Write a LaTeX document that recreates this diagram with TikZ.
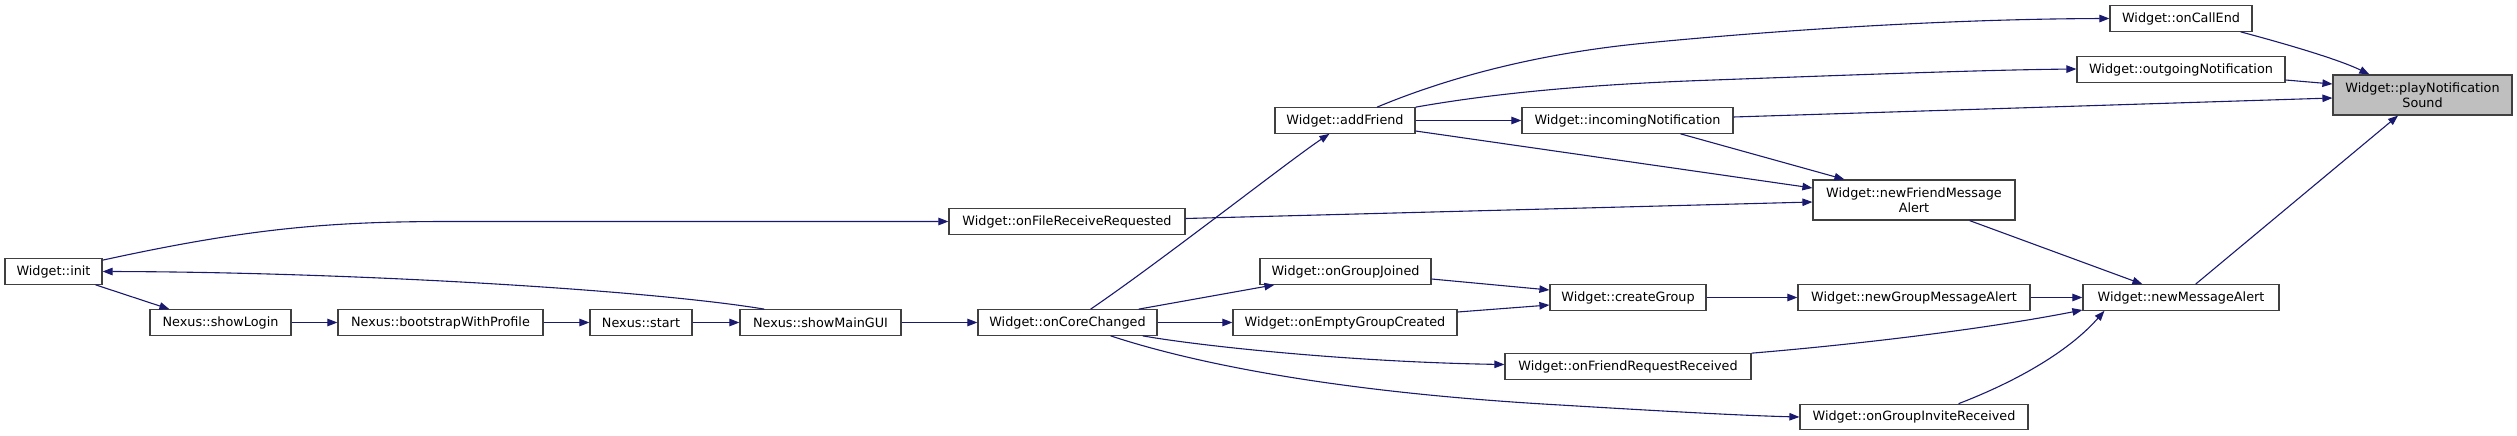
\documentclass[tikz,border=0pt]{standalone}
\usepackage{fontspec}
\setmainfont{DejaVu Sans}
\usetikzlibrary{arrows.meta}
\definecolor{edgeblue}{HTML}{191970}
\definecolor{rootgray}{HTML}{BFBFBF}
\begin{document}
\begin{tikzpicture}[x=1pt,y=-1pt,
  fn/.style={draw=black!75, line width=1.2pt, fill=white, inner sep=0pt,
    minimum height=25.5pt, font=\fontsize{12.8}{15}\selectfont, align=center},
  fntwo/.style={fn, minimum height=40pt},
  call/.style={draw=edgeblue, line width=1.1pt, -{Triangle[length=10pt,width=7.5pt]}, fill=none}]
\useasboundingbox (0,0) rectangle (2517,436);

% nodes
\node[fn, minimum width=97pt]  (init)      at (53.5,271.5)  {Widget::init};
\node[fn, minimum width=141pt] (showLogin) at (220.5,322.5) {Nexus::showLogin};
\node[fn, minimum width=205pt] (bootstrap) at (440.5,322.5) {Nexus::bootstrapWithProfile};
\node[fn, minimum width=102pt] (start)     at (641,322.5)   {Nexus::start};
\node[fn, minimum width=161pt] (mainGUI)   at (820.5,322.5) {Nexus::showMainGUI};
\node[fn, minimum width=179pt] (core)      at (1067.5,322.5) {Widget::onCoreChanged};
\node[fn, minimum width=236pt] (fileRecv)  at (1067,221.5)  {Widget::onFileReceiveRequested};
\node[fn, minimum width=140pt] (addFriend) at (1345,120.5)  {Widget::addFriend};
\node[fn, minimum width=211pt] (incoming)  at (1627.5,120.5) {Widget::incomingNotification};
\node[fn, minimum width=171pt] (joined)    at (1345.5,271.5) {Widget::onGroupJoined};
\node[fn, minimum width=224pt] (emptyGrp)  at (1345,322.5)  {Widget::onEmptyGroupCreated};
\node[fn, minimum width=156pt] (createGrp) at (1628,297.5)  {Widget::createGroup};
\node[fn, minimum width=246pt] (friendReq) at (1628,366.5)  {Widget::onFriendRequestReceived};
\node[fntwo, minimum width=202pt] (friendMsg) at (1914,200) {Widget::newFriendMessage\\Alert};
\node[fn, minimum width=232pt] (groupMsg)  at (1914,297.5)  {Widget::newGroupMessageAlert};
\node[fn, minimum width=228pt] (invite)    at (1914,417)    {Widget::onGroupInviteReceived};
\node[fn, minimum width=142pt] (callEnd)   at (2181,18.5)   {Widget::onCallEnd};
\node[fn, minimum width=208pt] (outgoing)  at (2181,69.5)   {Widget::outgoingNotification};
\node[fn, minimum width=196pt] (newMsg)    at (2181,297.5)  {Widget::newMessageAlert};
\node[fntwo, minimum width=179pt, fill=rootgray] (play) at (2422.5,95) {Widget::playNotification\\Sound};

% connectors
\draw[call] ([xshift=-7pt]init.south east) -- ([xshift=20pt]showLogin.north west);
\draw[call] (showLogin.east) -- (bootstrap.west);
\draw[call] (bootstrap.east) -- (start.west);
\draw[call] (start.east) -- (mainGUI.west);
\draw[call] (mainGUI.east) -- (core.west);
\draw[call] ([xshift=25pt]mainGUI.north west) .. controls (650,290) and (350,272) .. (init.east);
\draw[call] ([yshift=-2pt]init.north east) .. controls (250,228) and (330,221.5) .. (450,221.5) -- (fileRecv.west);
\draw[call] ([yshift=3pt]fileRecv.east) -- ([yshift=-2pt]friendMsg.west);
\draw[call] ([xshift=-67pt]core.north east) .. controls (1160,262) and (1290,160) .. ([xshift=55pt]addFriend.south west);
\draw[call] ([xshift=-19pt]core.north east) -- ([xshift=15pt]joined.south west);
\draw[call] (core.east) -- (emptyGrp.west);
\draw[call] ([xshift=-15pt]core.south east) .. controls (1200,346) and (1350,362) .. ([yshift=2pt]friendReq.west);
\draw[call] ([xshift=-47pt]core.south east) .. controls (1190,362) and (1330,392) .. (1560,405)
            .. controls (1660,411) and (1740,415.5) .. (invite.west);
\draw[call] ([yshift=-7.5pt]joined.east) -- ([yshift=7.5pt]createGrp.west);
\draw[call] ([yshift=10.5pt]emptyGrp.east) -- ([yshift=-7.5pt]createGrp.west);
\draw[call] (createGrp.east) -- (groupMsg.west);
\draw[call] (groupMsg.east) -- (newMsg.west);
\draw[call] (friendReq.north east) .. controls (1850,345) and (1980,330) .. ([yshift=-12.5pt]newMsg.west);
\draw[call] ([xshift=-70pt]invite.north east) .. controls (2020,380) and (2070,350) .. ([xshift=22pt]newMsg.south west);
\draw[call] ([xshift=-46pt]friendMsg.south east) -- ([xshift=60pt]newMsg.north west);
\draw[call] ([xshift=-84pt]newMsg.north east) -- ([xshift=-24.5pt]play.south);
\draw[call] ([xshift=-12pt]callEnd.south east) .. controls (2290,45) and (2340,60) .. ([xshift=37pt]play.north west);
\draw[call] ([yshift=-10.5pt]outgoing.east) -- ([yshift=11pt]play.west);
\draw[call] ([yshift=3.5pt]incoming.east) -- ([yshift=-3pt]play.west);
\draw[call] ([xshift=32pt]addFriend.north) .. controls (1430,85) and (1520,55) .. (1646,43)
            .. controls (1780,30) and (1950,19) .. (callEnd.west);
\draw[call] (addFriend.north east) .. controls (1490,94) and (1580,85) .. (1700,80.5)
            .. controls (1850,75) and (1980,70) .. ([yshift=0.5pt]outgoing.west);
\draw[call] (addFriend.east) -- (incoming.west);
\draw[call] ([yshift=-10.5pt]addFriend.east) -- ([yshift=12pt]friendMsg.west);
\draw[call] ([xshift=53pt]incoming.south) -- ([xshift=32pt]friendMsg.north west);
\end{tikzpicture}
\end{document}
